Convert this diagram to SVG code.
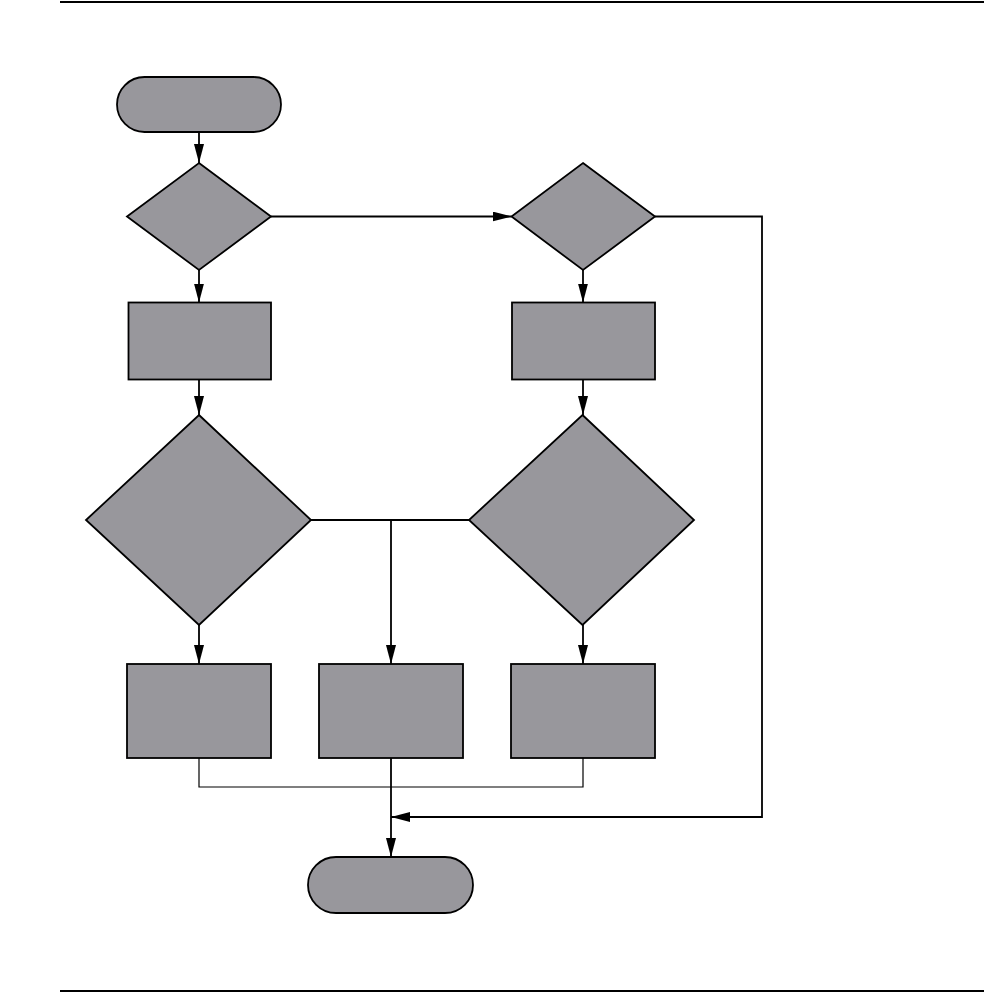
<svg xmlns="http://www.w3.org/2000/svg" width="984" height="993" viewBox="0 0 984 993">
<style>
.shape{fill:#98979c;stroke:#000;stroke-width:1.8}
.conn{fill:none;stroke:#000;stroke-width:1.8}
.thin{fill:none;stroke:#000;stroke-width:1.2}
.rule{stroke:#000;stroke-width:2.2}
</style>
<defs>
<marker id="arr" markerUnits="userSpaceOnUse" markerWidth="19" markerHeight="10" refX="19" refY="5" orient="auto">
<path d="M0,0 L19,5 L0,10 Z" fill="#000"/>
</marker>
</defs>
<rect width="984" height="993" fill="#fff"/>
<line class="rule" x1="60" y1="2" x2="984" y2="2"/>
<line class="rule" x1="60" y1="991" x2="984" y2="991"/>
<g id="connectors">
<path class="conn" d="M199,132 V163" marker-end="url(#arr)"/>
<path class="conn" d="M271,216.5 H511.5" marker-end="url(#arr)"/>
<path class="conn" d="M655,216.5 H762 V817 H391" marker-end="url(#arr)"/>
<path class="conn" d="M199,270 V302.5" marker-end="url(#arr)"/>
<path class="conn" d="M583,270 V302.5" marker-end="url(#arr)"/>
<path class="conn" d="M199,379.5 V415" marker-end="url(#arr)"/>
<path class="conn" d="M583,379.5 V415" marker-end="url(#arr)"/>
<path class="conn" d="M199,625 V664" marker-end="url(#arr)"/>
<path class="conn" d="M583,625 V664" marker-end="url(#arr)"/>
<path class="conn" d="M311,520 H469"/>
<path class="conn" d="M391,520 V664" marker-end="url(#arr)"/>
<path class="thin" d="M199,758 V787 H583 V758"/>
<path class="conn" d="M391,758 V857" marker-end="url(#arr)"/>
</g>
<g id="start"><rect class="shape" x="117" y="77" width="164" height="55" rx="27.5"/></g>
<g id="decision1"><polygon class="shape" points="199,163 271,216.5 199,270 127,216.5"/></g>
<g id="decision2"><polygon class="shape" points="583,163 655,216.5 583,270 511.5,216.5"/></g>
<g id="process1"><rect class="shape" x="128.5" y="302.5" width="142.5" height="77"/></g>
<g id="process2"><rect class="shape" x="512" y="302.5" width="143" height="77"/></g>
<g id="decision3"><polygon class="shape" points="199,415 311,520 199,625 86,520"/></g>
<g id="decision4"><polygon class="shape" points="582.5,415 694,520 582.5,625 469,520"/></g>
<g id="process3"><rect class="shape" x="127" y="664" width="144" height="94"/></g>
<g id="process4"><rect class="shape" x="319" y="664" width="144" height="94"/></g>
<g id="process5"><rect class="shape" x="511" y="664" width="144" height="94"/></g>
<g id="end"><rect class="shape" x="308" y="857" width="165" height="56" rx="28"/></g>
</svg>
